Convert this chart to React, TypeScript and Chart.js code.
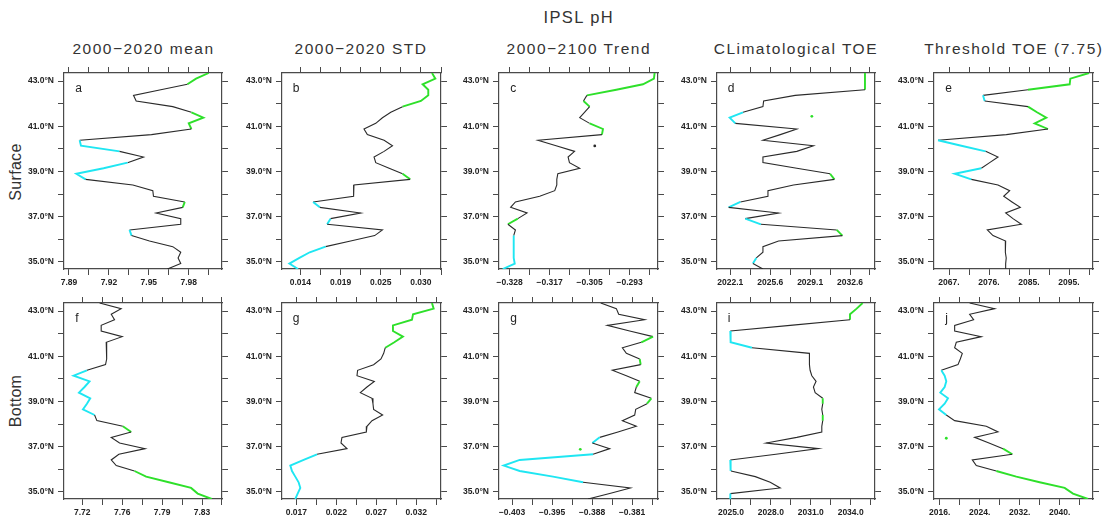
import React, { useEffect, useRef } from 'react';
import { Chart, registerables } from 'chart.js';
Chart.register(...registerables);

// Latitude grid (north -> south), degrees N
const LAT = [43.36, 43.11, 42.86, 42.62, 42.37, 42.12, 41.87, 41.62, 41.38, 41.13, 40.88, 40.63, 40.38, 40.14, 39.89, 39.64, 39.39, 39.14, 38.90, 38.65, 38.40, 38.15, 37.90, 37.65, 37.41, 37.16, 36.91, 36.66, 36.41, 36.16, 35.92, 35.67, 35.42, 35.17, 34.92, 34.68];
const LAT_TICKS = [35, 36, 37, 38, 39, 40, 41, 42, 43];

// Surface
const SFC_MEAN = [7.995, 7.9855, 7.979, 7.959, 7.9385, 7.9405, 7.968, 7.982, 7.991, 7.980, 7.982, 7.952, 7.898, 7.899, 7.928, 7.946, 7.934, 7.916, 7.8955, 7.9025, 7.938, 7.953, 7.9535, 7.977, 7.9755, 7.9555, 7.974, 7.974, 7.9355, 7.937, 7.9505, 7.968, 7.974, 7.972, 7.974, 7.964];
const SFC_STD = [0.03169, 0.03214, 0.03043, 0.03119, 0.03119, 0.0302, 0.02773, 0.02615, 0.02503, 0.02413, 0.02255, 0.023, 0.02525, 0.02638, 0.02525, 0.0239, 0.02413, 0.02593, 0.02773, 0.02876, 0.0212, 0.0212, 0.02111, 0.01571, 0.01661, 0.0221, 0.01805, 0.0176, 0.02503, 0.02399, 0.02075, 0.01738, 0.01526, 0.01387, 0.01252, 0.01369];
const SFC_TREND = [-0.2856, -0.2858, -0.289, -0.2968, -0.3054, -0.3064, -0.3046, -0.3061, -0.3075, -0.3046, -0.3007, -0.301, -0.3197, -0.3144, -0.309, -0.3109, -0.3105, -0.3075, -0.3139, -0.3142, -0.3142, -0.3148, -0.3192, -0.3263, -0.3277, -0.3229, -0.3256, -0.3285, -0.3263, -0.3268, -0.3268, -0.3268, -0.3268, -0.3268, -0.3265, -0.33];
const SFC_CLIM_TOE = [2033.91, 2033.91, 2033.91, 2033.91, 2027.79, 2025.02, 2024.96, 2023.21, 2022.04, 2022.54, 2027.93, 2026.48, 2024.96, 2029.39, 2027.93, 2024.96, 2024.96, 2027.93, 2030.85, 2031.23, 2027.64, 2025.4, 2025.4, 2022.98, 2021.95, 2026.33, 2023.41, 2024.78, 2031.43, 2031.93, 2026.33, 2024.96, 2024.96, 2024.38, 2024.08, 2024.96];
const SFC_THR_TOE = [2099.67, 2095.31, 2095.16, 2085.43, 2074.93, 2075.32, 2085.43, 2087.53, 2089.71, 2086.99, 2090.1, 2080.38, 2064.43, 2069.88, 2075.56, 2078.43, 2076.49, 2074.54, 2068.32, 2072.21, 2078.43, 2081.16, 2079.76, 2081.7, 2083.64, 2080.22, 2081.93, 2083.88, 2075.94, 2077.27, 2080.22, 2080.1, 2080.2, 2080.35, 2080.22, 2080.22];

// Bottom
const BOT_MEAN = [7.7352, 7.7541, 7.7454, 7.7483, 7.7366, 7.7366, 7.755, 7.741, 7.741, 7.7416, 7.7416, 7.7404, 7.7241, 7.7124, 7.7264, 7.722, 7.7171, 7.727, 7.7241, 7.7206, 7.7308, 7.7328, 7.7556, 7.7629, 7.7454, 7.7527, 7.7751, 7.7521, 7.7454, 7.7498, 7.7658, 7.776, 7.7958, 7.8154, 7.8212, 7.8335];
const BOT_STD = [0.03397, 0.03418, 0.0316, 0.03147, 0.02909, 0.02909, 0.03034, 0.02926, 0.02813, 0.02793, 0.02759, 0.02667, 0.02467, 0.02459, 0.02676, 0.02584, 0.02501, 0.02647, 0.02659, 0.02667, 0.0278, 0.02647, 0.02584, 0.02576, 0.02271, 0.02259, 0.02334, 0.01959, 0.01792, 0.01625, 0.01646, 0.01687, 0.01729, 0.0175, 0.01717, 0.01687];
const BOT_TREND = [-0.38637, -0.38344, -0.383, -0.37813, -0.38513, -0.38094, -0.37656, -0.37875, -0.38231, -0.38156, -0.37906, -0.37888, -0.38419, -0.38156, -0.37906, -0.37969, -0.38, -0.37688, -0.37769, -0.37981, -0.38, -0.38231, -0.37969, -0.38313, -0.38656, -0.38794, -0.38469, -0.38781, -0.40156, -0.40456, -0.40156, -0.39531, -0.38969, -0.38081, -0.38469, -0.38875];
const BOT_CLIM_TOE = [2034.9, 2034.45, 2033.95, 2033.95, 2029.45, 2024.95, 2024.95, 2025, 2026.58, 2030.9, 2030.9, 2030.9, 2030.95, 2031.08, 2031.4, 2031.2, 2031.33, 2031.9, 2031.9, 2031.83, 2031.9, 2031.9, 2031.83, 2031.83, 2029.95, 2027.65, 2031.58, 2028.38, 2024.95, 2024.95, 2025, 2026.83, 2027.95, 2028.7, 2024.95, 2024.95];
const BOT_THR_TOE = [2022.0, 2027.0, 2022.0, 2022.8, 2019.0, 2019.0, 2024.33, 2019.33, 2019.0, 2020.53, 2020.13, 2019.67, 2016.33, 2017.0, 2017.33, 2017.0, 2016.13, 2017.67, 2017.0, 2015.87, 2017.33, 2019.0, 2025.33, 2027.67, 2023.0, 2025.87, 2028.67, 2030.53, 2022.53, 2023.33, 2027.33, 2031.33, 2036.0, 2041.0, 2042.67, 2045.67];

// Segment class between consecutive latitudes: k = normal, c = low, g = high
const SFC_MEAN_CLS = 'ggkkkkkgggkkcckkccckkkkgkkkkckkkkkk';
const SFC_STD_CLS = 'ggggggkkkkkkkkkkkkgkkkkckkckkkkcccc';
const SFC_TREND_CLS = 'ggggkgkkkggkkkkkkkkkkkkkkkgkkcccccc';
const SFC_CLIM_CLS = 'gggkkkkcckkkkkkkkkgkkkkckkckgkkkkck';
const SFC_THR_CLS = 'gggkckggggkkcckkkcckkkkkkkkkkkkkkkk';
const BOT_MEAN_CLS = 'kkkkkkkkkkkkcccccccckkgkkkkkkkggggg';
const BOT_STD_CLS = 'ggggggggkkkkkkkkkkkkkkkkkkkcccccccc';
const BOT_TREND_CLS = 'kkkkkkgkkkgkkkgkkgkkkkkkckkccccckkk';
const BOT_CLIM_CLS = 'gggkkccckkkkkkkkkgkkgkkkkkkkcckkkkc';
const BOT_THR_CLS = 'kkkkkkkkkkkkcccccccckkkkkkgkkkggggg';

// Isolated values [value, latitude, class]
const SFC_TREND_DOTS: [number, number, string][] = [[-0.3031, 40.13, 'k']];
const SFC_CLIM_DOTS: [number, number, string][] = [[2029.25, 41.44, 'g']];
const BOT_TREND_DOTS: [number, number, string][] = [[-0.3902, 36.88, 'g']];
const BOT_THR_DOTS: [number, number, string][] = [[2017.33, 37.37, 'g']];

// Tick labels
const A_TICKS = ['7.89', '7.92', '7.95', '7.98'];
const B_TICKS = ['0.014', '0.019', '0.025', '0.030'];
const C_TICKS = ['\u22120.328', '\u22120.317', '\u22120.305', '\u22120.293'];
const D_TICKS = ['2022.1', '2025.6', '2029.1', '2032.6'];
const E_TICKS = ['2067.', '2076.', '2085.', '2095.'];
const F_TICKS = ['7.72', '7.76', '7.79', '7.83'];
const G_TICKS = ['0.017', '0.022', '0.027', '0.032'];
const H_TICKS = ['\u22120.403', '\u22120.395', '\u22120.388', '\u22120.381'];
const I_TICKS = ['2025.0', '2028.0', '2031.0', '2034.0'];
const J_TICKS = ['2016.', '2024.', '2032.', '2040.'];

const COLUMN_TITLES = ['2000\u22122020 mean', '2000\u22122020 STD', '2000\u22122100 Trend', 'CLimatological TOE', 'Threshold TOE (7.75)'];
const ROW_TITLES = ['Surface', 'Bottom'];
const MAIN_TITLE = 'IPSL pH';

const COLORS: Record<string, string> = { k: '#2a2a2a', c: '#1fe6f2', g: '#2ee02a' };

type PanelDef = {
  letter: string; vals: number[]; cls: string; dots?: [number, number, string][];
  min: number; max: number; t0: number; step: number; labels: string[];
  col: number; row: number;
};

const PANELS: PanelDef[] = [
  { letter: 'a', vals: SFC_MEAN, cls: SFC_MEAN_CLS, min: 7.88625, max: 8.005, t0: 7.89, step: 0.015, labels: A_TICKS, col: 0, row: 0 },
  { letter: 'b', vals: SFC_STD, cls: SFC_STD_CLS, min: 0.01153, max: 0.0329, t0: 0.014, step: 0.0027, labels: B_TICKS, col: 1, row: 0 },
  { letter: 'c', vals: SFC_TREND, cls: SFC_TREND_CLS, dots: SFC_TREND_DOTS, min: -0.3311, max: -0.28461, t0: -0.328, step: 0.00585, labels: C_TICKS, col: 2, row: 0 },
  { letter: 'd', vals: SFC_CLIM_TOE, cls: SFC_CLIM_CLS, dots: SFC_CLIM_DOTS, min: 2020.93, max: 2034.79, t0: 2022.1, step: 1.75, labels: D_TICKS, col: 3, row: 0 },
  { letter: 'e', vals: SFC_THR_TOE, cls: SFC_THR_CLS, min: 2063.5, max: 2100.6, t0: 2067, step: 4.667, labels: E_TICKS, col: 4, row: 0 },
  { letter: 'f', vals: BOT_MEAN, cls: BOT_MEAN_CLS, min: 7.704, max: 7.8425, t0: 7.72, step: 0.0175, labels: F_TICKS, col: 0, row: 1 },
  { letter: 'g', vals: BOT_STD, cls: BOT_STD_CLS, min: 0.01521, max: 0.0351, t0: 0.017, step: 0.0025, labels: G_TICKS, col: 1, row: 1 },
  { letter: 'g', vals: BOT_TREND, cls: BOT_TREND_CLS, dots: BOT_TREND_DOTS, min: -0.40544, max: -0.37563, t0: -0.403, step: 0.00375, labels: H_TICKS, col: 2, row: 1 },
  { letter: 'i', vals: BOT_CLIM_TOE, cls: BOT_CLIM_CLS, min: 2023.95, max: 2035.83, t0: 2025, step: 1.5, labels: I_TICKS, col: 3, row: 1 },
  { letter: 'j', vals: BOT_THR_TOE, cls: BOT_THR_CLS, dots: BOT_THR_DOTS, min: 2014.87, max: 2046.67, t0: 2016, step: 4, labels: J_TICKS, col: 4, row: 1 },
];

// Layout (page pixels)
const COL_LEFT = [64.3, 281.7, 499.3, 716.7, 934.3];
const COL_RIGHT = [222.7, 440.3, 658.3, 875, 1093.3];
const ROW_TOP = [72.7, 302.7];
const PLOT_H = 195.6;
const PADL = 62, PADR = 12, PADT = 10, PADB = 26;

const FONT = "'Liberation Sans', Arial, Helvetica, sans-serif";
const AXIS_COLOR = '#4a4a4a';

function PanelChart({ p }: { p: PanelDef }) {
  const ref = useRef<HTMLCanvasElement | null>(null);
  const left = COL_LEFT[p.col];
  const w = COL_RIGHT[p.col] - left;
  const top = ROW_TOP[p.row];
  const cw = Math.round(w + PADL + PADR);
  const ch = Math.round(PLOT_H + PADT + PADB);

  useEffect(() => {
    if (!ref.current) return;
    const xTicks: number[] = [];
    for (let k = 0; k < 8; k++) {
      const v = p.t0 + p.step * k;
      if (v <= p.max + 1e-9) xTicks.push(v);
    }
    const lineData = p.vals.map((v, i) => ({ x: v, y: LAT[i] }));
    const datasets: any[] = [
      {
        data: lineData,
        borderColor: COLORS.k,
        borderWidth: 1.1,
        pointRadius: 0,
        tension: 0,
        segment: {
          borderColor: (ctx: any) => COLORS[p.cls[ctx.p0DataIndex]] || COLORS.k,
          borderWidth: (ctx: any) => (p.cls[ctx.p0DataIndex] === 'k' ? 1.1 : 1.9),
        },
      },
    ];
    if (p.dots) {
      datasets.push({
        data: p.dots.map((d) => ({ x: d[0], y: d[1] })),
        showLine: false,
        pointRadius: 1.4,
        pointBorderWidth: 0,
        pointBackgroundColor: p.dots.map((d) => COLORS[d[2]]),
      });
    }
    const xCommon = {
      type: 'linear' as const,
      min: p.min,
      max: p.max,
      afterBuildTicks: (s: any) => { s.ticks = xTicks.map((v) => ({ value: v })); },
      grid: { drawOnChartArea: false, drawTicks: true, tickLength: 6, color: AXIS_COLOR, lineWidth: 1 },
      border: { display: true, color: AXIS_COLOR, width: 1.2 },
    };
    const yCommon = {
      type: 'linear' as const,
      min: LAT[LAT.length - 1],
      max: LAT[0],
      afterBuildTicks: (s: any) => { s.ticks = LAT_TICKS.map((v) => ({ value: v })); },
      grid: { drawOnChartArea: false, drawTicks: true, tickLength: 6, color: AXIS_COLOR, lineWidth: 1 },
      border: { display: true, color: AXIS_COLOR, width: 1.2 },
    };
    const chart = new Chart(ref.current, {
      type: 'line',
      data: { datasets },
      options: {
        responsive: false,
        maintainAspectRatio: false,
        animation: false,
        events: [],
        layout: { padding: 0 },
        plugins: { legend: { display: false }, tooltip: { enabled: false }, title: { display: false } },
        scales: {
          x: {
            ...xCommon,
            position: 'bottom',
            afterFit: (s: any) => { s.height = PADB; },
            ticks: {
              autoSkip: false, maxRotation: 0, padding: 3, color: '#222',
              font: { family: FONT, size: 8.5, weight: 'bold' },
              callback: (_v: any, i: number) => (i % 2 === 0 ? p.labels[i / 2] ?? '' : ''),
            },
          },
          x2: {
            ...xCommon,
            position: 'top',
            afterFit: (s: any) => { s.height = PADT; },
            ticks: { autoSkip: false, maxRotation: 0, padding: 0, font: { size: 1 }, callback: () => '' },
          },
          y: {
            ...yCommon,
            position: 'left',
            afterFit: (s: any) => { s.width = PADL; },
            ticks: {
              autoSkip: false, padding: 4, color: '#222',
              font: { family: FONT, size: 8.5, weight: 'bold' },
              callback: (v: any) => (Math.round(v) % 2 === 1 ? Number(v).toFixed(1) + '\u00b0N' : ''),
            },
          },
          y2: {
            ...yCommon,
            position: 'right',
            afterFit: (s: any) => { s.width = PADR; },
            ticks: { autoSkip: false, padding: 0, font: { size: 1 }, callback: () => '' },
          },
        },
      } as any,
    });
    return () => chart.destroy();
  }, [p]);

  return (
    <>
      <canvas
        ref={ref}
        width={cw}
        height={ch}
        style={{ position: 'absolute', left: left - PADL, top: top - PADT, width: cw, height: ch }}
      />
      <div style={{ position: 'absolute', left: left + 11, top: top + 8, fontFamily: FONT, fontSize: 12, color: '#222', lineHeight: '14px' }}>
        {p.letter}
      </div>
    </>
  );
}

export default function App() {
  const colCenter = (c: number) => (COL_LEFT[c] + COL_RIGHT[c]) / 2;
  return (
    <div style={{ position: 'absolute', left: 0, top: 0, width: 1102, height: 523, background: '#fff', overflow: 'hidden', fontFamily: FONT }}>
      <div style={{ position: 'absolute', left: colCenter(2) - 150, width: 300, top: 6, textAlign: 'center', fontSize: 16.5, letterSpacing: 1.4, color: '#333', lineHeight: '22px' }}>
        {MAIN_TITLE}
      </div>
      {COLUMN_TITLES.map((t, c) => (
        <div key={t} style={{ position: 'absolute', left: colCenter(c) - 150, width: 300, top: 38, textAlign: 'center', fontSize: 15.5, letterSpacing: 1.5, color: '#333', lineHeight: '22px', whiteSpace: 'pre' }}>
          {t}
        </div>
      ))}
      {ROW_TITLES.map((t, r) => (
        <div key={t} style={{ position: 'absolute', left: 16 - 60, top: (r === 0 ? 171.5 : 401) - 11, width: 120, height: 22, textAlign: 'center', fontSize: 16, letterSpacing: 0.3, color: '#333', lineHeight: '22px', transform: 'rotate(-90deg)' }}>
          {t}
        </div>
      ))}
      {PANELS.map((p, i) => (
        <PanelChart key={i} p={p} />
      ))}
    </div>
  );
}
